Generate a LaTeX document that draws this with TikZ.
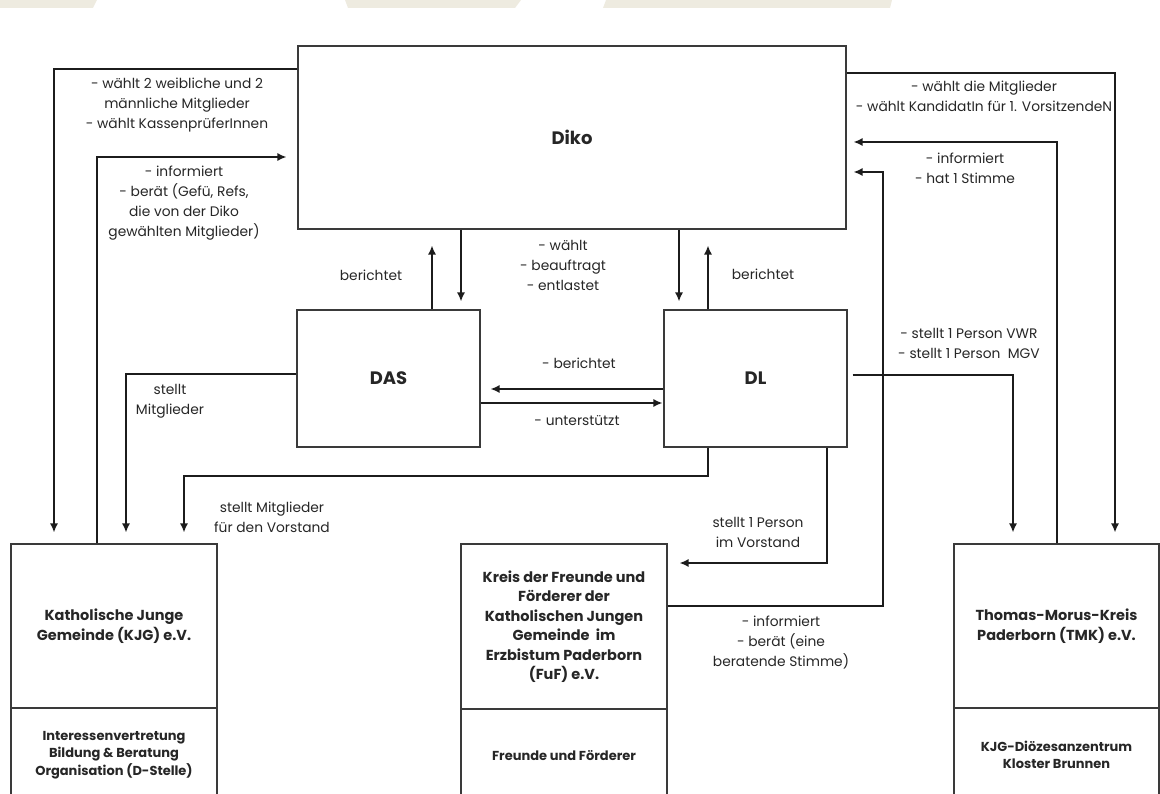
\documentclass[tikz,border=0pt]{standalone}
\usepackage{fontspec}
\setmainfont{Poppins}
\usetikzlibrary{arrows.meta,calc}
\definecolor{ln}{HTML}{1C1C1C}
\definecolor{bx}{HTML}{3A3A3A}
\definecolor{tx}{HTML}{262626}
\definecolor{beige}{HTML}{EEEBE0}
\begin{document}
\begin{tikzpicture}[x=1pt,y=-1pt,
  box/.style={draw=bx,line width=1.1pt,inner sep=0pt,align=center,text=tx,
    font=\fontsize{14.5}{19.5}\selectfont\bfseries},
  bigbox/.style={box,font=\fontsize{18}{20}\selectfont\bfseries},
  subbox/.style={box,font=\fontsize{13}{17.5}\selectfont\bfseries},
  conn/.style={draw=ln,line width=1.5pt},
  arr/.style={conn,-{Latex[length=9pt,width=8pt]}},
  lbl/.style={align=center,font=\fontsize{13.8}{20}\selectfont,text=tx,inner sep=0pt}]
\useasboundingbox (0,0) rectangle (1160,794);
% beige remnants at the top
\fill[beige] (0,0) -- (97,0) -- (93,8) -- (0,8) -- cycle;
\fill[beige] (345,0) -- (521,0) -- (515,8) -- (348,8) -- cycle;
\fill[beige] (606,0) -- (892,0) -- (890,8) -- (603,8) -- cycle;

% boxes
\node[bigbox,minimum width=548pt,minimum height=183pt] (diko) at (572,137.5) {Diko};
\node[bigbox,minimum width=183pt,minimum height=137pt] (das) at (388.5,378.5) {DAS};
\node[bigbox,minimum width=183pt,minimum height=137pt] (dl) at (755.5,378.5) {DL};
\node[box,minimum width=206pt,minimum height=164pt] (kjg) at (114,626) {Katholische Junge\\Gemeinde (KJG) e.V.};
\node[subbox,minimum width=206pt,minimum height=94pt] (kjgsub) at (114,755) {Interessenvertretung\\Bildung \& Beratung\\Organisation (D-Stelle)};
\node[box,minimum width=206pt,minimum height=165pt] (fuf) at (564,626.5) {Kreis der Freunde und\\Förderer der\\Katholischen Jungen\\Gemeinde\ \ im\\Erzbistum Paderborn\\(FuF) e.V.};
\node[subbox,minimum width=206pt,minimum height=93pt] (fufsub) at (564,755.5) {Freunde und Förderer};
\node[box,minimum width=205pt,minimum height=164pt] (tmk) at (1056.5,626) {Thomas-Morus-Kreis\\Paderborn (TMK) e.V.};
\node[subbox,minimum width=205pt,minimum height=94pt] (tmksub) at (1056.5,755) {KJG-Diözesanzentrum\\Kloster Brunnen};

% connectors
\draw[arr,shorten >=11pt] (diko.west |- 0,69) -| (54,0 |- kjg.north);
\draw[arr,shorten >=11pt] (97,0 |- kjg.north) |- (diko.west |- 0,157);
\draw[arr,shorten >=11pt] (das.west |- 0,374) -| (126,0 |- kjg.north);
\draw[arr,shorten >=11pt] (708,0 |- dl.south) |- (184,476) -- (184,0 |- kjg.north);
\draw[arr,shorten >=8pt] (461,0 |- diko.south) -- (461,0 |- das.north);
\draw[arr,shorten >=16pt] (432,0 |- das.north) -- (432,0 |- diko.south);
\draw[arr,shorten >=8pt] (679,0 |- diko.south) -- (679,0 |- dl.north);
\draw[arr,shorten >=16pt] (708,0 |- dl.north) -- (708,0 |- diko.south);
\draw[arr,shorten >=10pt] (dl.west |- 0,389) -- (das.east |- 0,389);
\draw[arr,shorten >=1pt] (das.east |- 0,403) -- (dl.west |- 0,403);
\draw[arr,shorten >=11pt] (diko.east |- 0,73) -| (1115,0 |- tmk.north);
\draw[arr,shorten >=7pt] (1057,0 |- tmk.north) |- (diko.east |- 0,142);
\draw[arr,shorten >=7pt] (fuf.east |- 0,606) -| (883,172) -- (diko.east |- 0,172);
\draw[arr,shorten >=11pt,shorten <=5pt] (dl.east |- 0,375) -| (1013,0 |- tmk.north);
\draw[arr,shorten >=12pt] (827,0 |- dl.south) |- (fuf.east |- 0,563);

% labels
\node[lbl] (l1) at (177,105) {- wählt 2 weibliche und 2\\männliche Mitglieder\\- wählt KassenprüferInnen};
\node[lbl] (l2) at (184,203) {- informiert\\- berät (Gefü, Refs,\\die von der Diko\\gewählten Mitglieder)};
\node[lbl] (l3) at (170,401) {stellt\\Mitglieder};
\node[lbl] (l4) at (272,517) {stellt Mitglieder\\für den Vorstand};
\node[lbl] (l5) at (371,275) {berichtet};
\node[lbl] (l6) at (763,274) {berichtet};
\node[lbl] (l7) at (563,265) {- wählt\\- beauftragt\\- entlastet};
\node[lbl] (l8) at (579,363) {- berichtet};
\node[lbl] (l9) at (577,421) {- unterstützt};
\node[lbl] (l10) at (984,96) {- wählt die Mitglieder\\- wählt KandidatIn für 1. VorsitzendeN};
\node[lbl] (l11) at (965,168) {- informiert\\- hat 1 Stimme};
\node[lbl] (l12) at (969,343) {- stellt 1 Person VWR\\- stellt 1 Person\ \ MGV};
\node[lbl] (l13) at (758,532) {stellt 1 Person\\im Vorstand};
\node[lbl] (l14) at (781,643) {- informiert\\- berät (eine\\beratende Stimme)};
\end{tikzpicture}
\end{document}
